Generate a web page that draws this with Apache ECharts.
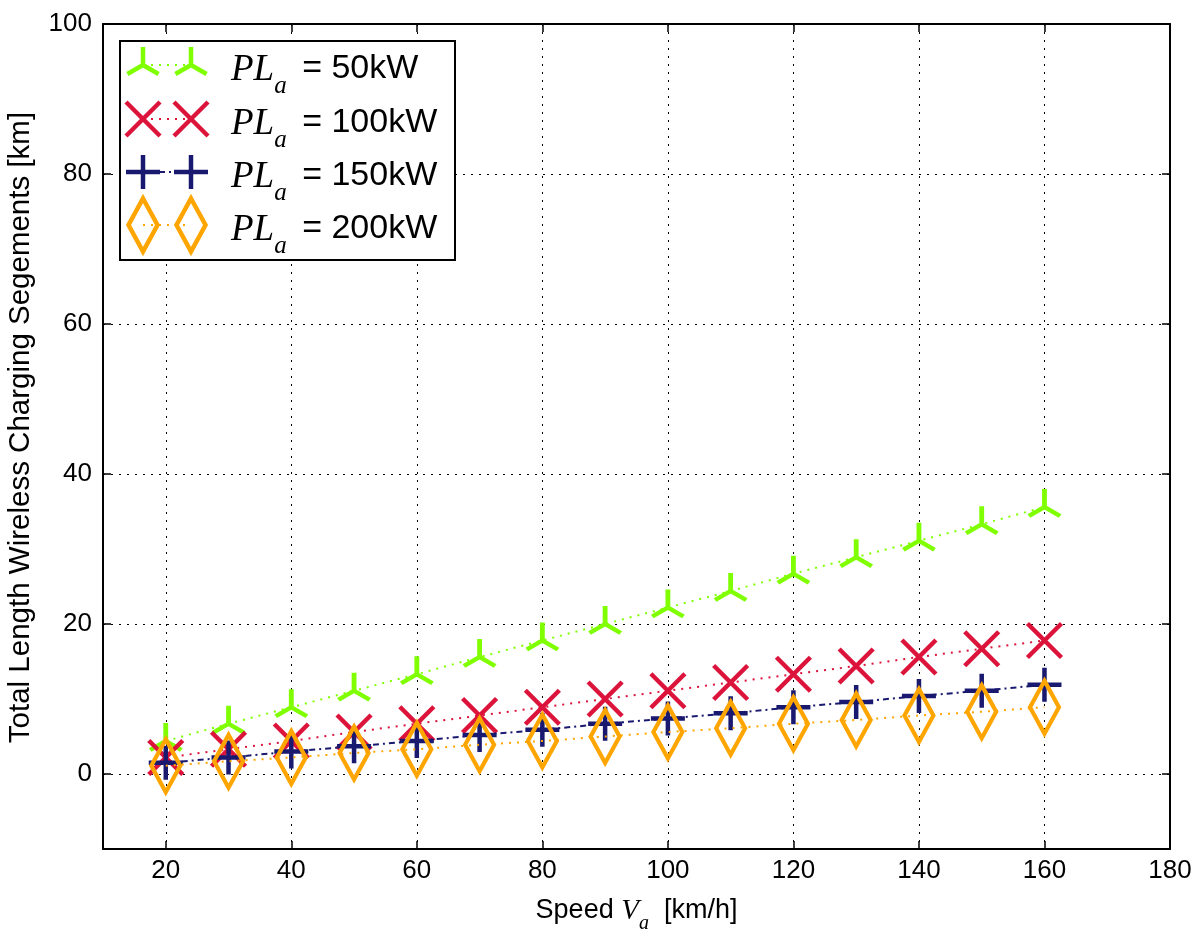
<!DOCTYPE html>
<html><head><meta charset="utf-8">
<script src="https://cdn.jsdelivr.net/npm/echarts@6/dist/echarts.min.js"></script>
<style>html,body{margin:0;padding:0;background:#fff}#c{width:1198px;height:929px}</style>
</head><body><div id="c"></div>
<script>
const speeds = [20, 30, 40, 50, 60, 70, 80, 90, 100, 110, 120, 130, 140, 150, 160];
const pl50  = [4.4, 6.7, 8.9, 11.1, 13.3, 15.6, 17.8, 20.0, 22.2, 24.4, 26.7, 28.9, 31.1, 33.3, 35.6];
const pl100 = [2.2, 3.3, 4.4, 5.6, 6.7, 7.8, 8.9, 10.0, 11.1, 12.2, 13.3, 14.4, 15.6, 16.7, 17.8];
const pl150 = [1.5, 2.2, 3.0, 3.7, 4.4, 5.2, 5.9, 6.7, 7.4, 8.1, 8.9, 9.6, 10.4, 11.1, 11.9];
const pl200 = [1.1, 1.7, 2.2, 2.8, 3.3, 3.9, 4.4, 5.0, 5.6, 6.1, 6.7, 7.2, 7.8, 8.3, 8.9];
const seriesLabels = ['50kW', '100kW', '150kW', '200kW'];
const xTicks = [20, 40, 60, 80, 100, 120, 140, 160, 180];
const yTicks = [0, 20, 40, 60, 80, 100];

const SANS = 'Liberation Sans, Arial, sans-serif';
const SERIF = 'Liberation Serif, Times New Roman, serif';
const colors = ['#7FFF00', '#DC143C', '#191970', '#FFA500'];
const TRI = 'M0,0L0,-1M0,0L-0.866,0.5M0,0L0.866,0.5';
const XS = 'M-1,-1L1,1M-1,1L1,-1';
const PLUS = 'M-1,0L1,0M0,-1L0,1';
const DIA = 'M0,-1L0.57,0L0,1L-0.57,0Z';
const TRI_R = 18;
const markers = [
  {path: TRI, w: 1.732 * TRI_R, h: 1.5 * TRI_R, dy: -0.25 * TRI_R},
  {path: XS, w: 34, h: 34, dy: 0},
  {path: PLUS, w: 34, h: 34, dy: 0},
  {path: DIA, w: 29, h: 53, dy: 0}
];
const MW = 4.5;
const lineTypes = [[2, 6], [2, 6], [6, 4, 2, 4], [2, 6]];
const allVals = [pl50, pl100, pl150, pl200];

const series = allVals.map((vals, k) => ({
  type: 'line',
  name: seriesLabels[k],
  data: speeds.map((s, i) => [s, vals[i]]),
  symbol: 'path://' + markers[k].path,
  symbolSize: [markers[k].w, markers[k].h],
  symbolOffset: [0, markers[k].dy],
  showAllSymbol: true,
  lineStyle: {color: colors[k], width: 2, type: lineTypes[k]},
  itemStyle: {color: 'rgba(0,0,0,0)', borderColor: colors[k], borderWidth: MW},
  emphasis: {disabled: true},
  z: 3 + k
}));

// legend marker shapes (pixels relative to the marker centre)
function legendMarker(k, cx, cy) {
  const c = colors[k];
  const st = {stroke: c, lineWidth: MW, fill: 'none'};
  const seg = (x1, y1, x2, y2) => ({type: 'line', z: 102, shape: {x1: cx + x1, y1: cy + y1, x2: cx + x2, y2: cy + y2}, style: st});
  if (k === 0) {
    const r = TRI_R;
    return [seg(0, 0, 0, -r), seg(0, 0, -0.866 * r, 0.5 * r), seg(0, 0, 0.866 * r, 0.5 * r)];
  }
  if (k === 1) { const r = 17; return [seg(-r, -r, r, r), seg(-r, r, r, -r)]; }
  if (k === 2) { const r = 17; return [seg(-r, 0, r, 0), seg(0, -r, 0, r)]; }
  return [{type: 'polygon', z: 102, shape: {points: [[cx, cy - 26.5], [cx + 14.5, cy], [cx, cy + 26.5], [cx - 14.5, cy]]}, style: st}];
}

const legendGraphics = [{
  type: 'rect', z: 100,
  shape: {x: 120, y: 41, width: 335, height: 219},
  style: {fill: '#fff', stroke: '#000', lineWidth: 2}
}];
const rowY = [65, 119, 172, 225];
seriesLabels.forEach((lab, k) => {
  const y = rowY[k];
  legendGraphics.push({
    type: 'line', z: 101,
    shape: {x1: 143, y1: y, x2: 191, y2: y},
    style: {stroke: colors[k], lineWidth: 2, lineDash: lineTypes[k]}
  });
  legendGraphics.push(...legendMarker(k, 143, y), ...legendMarker(k, 191, y));
  legendGraphics.push({
    type: 'text', z: 103, x: 231, y: y + 10,
    style: {
      text: '{it|PL}{sub|a}{n| = ' + lab + '}',
      verticalAlign: 'middle',
      rich: {
        it: {fontFamily: SERIF, fontStyle: 'italic', fontSize: 37, fill: '#000', padding: [0, 0, 10, 0], verticalAlign: 'top'},
        sub: {fontFamily: SERIF, fontStyle: 'italic', fontSize: 25, fill: '#000', verticalAlign: 'bottom'},
        n: {fontFamily: SANS, fontSize: 34, fill: '#000', padding: [0, 0, 10, 6], verticalAlign: 'top'}
      }
    }
  });
});

const axisLineStyle = {show: true, onZero: false, lineStyle: {color: '#000', width: 2}};
const tickStyle = {color: '#000', width: 1.5};
const option = {
  animation: false,
  backgroundColor: '#fff',
  grid: {left: 103, right: 28, top: 24, bottom: 80, containLabel: false, outerBoundsMode: 'none'},
  xAxis: [{
    type: 'value', min: 10, max: 180, position: 'bottom',
    axisLine: axisLineStyle,
    axisTick: {show: true, inside: true, length: 8, customValues: xTicks, lineStyle: tickStyle},
    axisLabel: {customValues: xTicks, fontSize: 26, color: '#000', margin: 9, fontFamily: SANS},
    splitLine: {show: true, lineStyle: {color: '#000', width: 1, type: [2, 6]}},
    name: '{n|Speed }{it|V}{sub|a}{n|  [km/h]}',
    nameLocation: 'middle', nameGap: 48,
    nameTextStyle: {
      rich: {
        n: {fontFamily: SANS, fontSize: 27, color: '#000', padding: [0, 0, 8, 0], verticalAlign: 'top'},
        it: {fontFamily: SERIF, fontStyle: 'italic', fontSize: 29, color: '#000', padding: [0, 0, 8, 0], verticalAlign: 'top'},
        sub: {fontFamily: SERIF, fontStyle: 'italic', fontSize: 20, color: '#000', verticalAlign: 'bottom'}
      }
    }
  }, {
    type: 'value', min: 10, max: 180, position: 'top',
    axisLine: axisLineStyle,
    axisTick: {show: true, inside: true, length: 8, customValues: xTicks, lineStyle: tickStyle},
    axisLabel: {show: false, customValues: xTicks},
    splitLine: {show: false}
  }],
  yAxis: [{
    type: 'value', min: -10, max: 100, position: 'left',
    axisLine: axisLineStyle,
    axisTick: {show: true, inside: true, length: 8, customValues: yTicks, lineStyle: tickStyle},
    axisLabel: {customValues: yTicks, fontSize: 26, color: '#000', margin: 11, fontFamily: SANS},
    splitLine: {show: true, lineStyle: {color: '#000', width: 1, type: [2, 6]}},
    name: 'Total Length Wireless Charging Segements [km]',
    nameLocation: 'middle', nameGap: 67,
    nameTextStyle: {fontFamily: SANS, fontSize: 29.5, color: '#000', padding: [0, 0, 0, 18]}
  }, {
    type: 'value', min: -10, max: 100, position: 'right',
    axisLine: axisLineStyle,
    axisTick: {show: true, inside: true, length: 8, customValues: yTicks, lineStyle: tickStyle},
    axisLabel: {show: false, customValues: yTicks},
    splitLine: {show: false}
  }],
  series: series,
  graphic: legendGraphics
};
const chart = echarts.init(document.getElementById('c'), null, {renderer: 'canvas'});
chart.setOption(option);
</script>
</body></html>
